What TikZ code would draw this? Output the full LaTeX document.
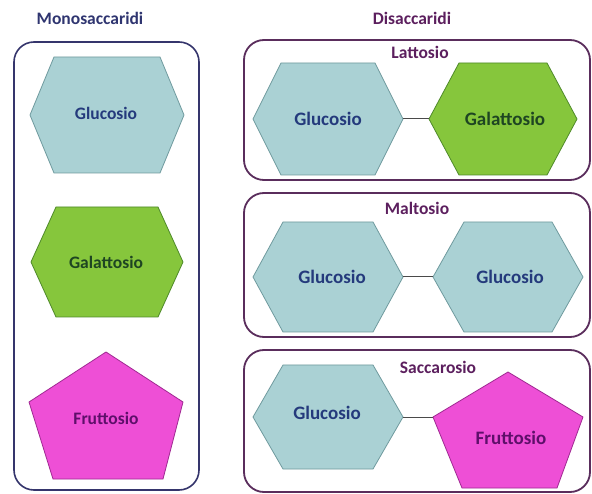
\documentclass[tikz,border=0pt]{standalone}
\usepackage{fontspec}
\setmainfont{Carlito}
\definecolor{glufill}{HTML}{AAD1D4}
\definecolor{gludraw}{HTML}{6F9A9E}
\definecolor{galfill}{HTML}{86C63C}
\definecolor{galdraw}{HTML}{4F8A2A}
\definecolor{frufill}{HTML}{EE4FD6}
\definecolor{frudraw}{HTML}{A02A92}
\definecolor{glutext}{HTML}{243A7C}
\definecolor{galtext}{HTML}{1E4522}
\definecolor{frutext}{HTML}{5E0F6A}
\definecolor{monoc}{HTML}{2F3570}
\definecolor{dic}{HTML}{5C1F5E}
\definecolor{lboxc}{HTML}{35356C}
\definecolor{rboxc}{HTML}{5A2D5C}
\definecolor{linkc}{HTML}{4A4A4A}
\newcommand\hexa[7]{% name, cx, cy, half width, half top width, half height, style
  \coordinate (#1-l) at (#2-#4,#3);
  \coordinate (#1-r) at (#2+#4,#3);
  \draw[#7] (#1-l) -- (#2-#5,#3-#6) -- (#2+#5,#3-#6) -- (#1-r) -- (#2+#5,#3+#6) -- (#2-#5,#3+#6) -- cycle;
}
\begin{document}
\begin{tikzpicture}[x=1pt,y=-1pt]
\tikzset{
  lbox/.style={draw=lboxc, line width=1.6pt, rounded corners=20pt},
  rbox/.style={draw=rboxc, line width=1.8pt, rounded corners=20pt},
  lbl/.style={font=\bfseries\fontsize{17.5}{20}\selectfont, inner sep=0pt},
  biglbl/.style={font=\bfseries\fontsize{19}{22}\selectfont, inner sep=0pt},
  glu/.style={fill=glufill, draw=gludraw, line width=0.8pt},
  gal/.style={fill=galfill, draw=galdraw, line width=0.8pt},
  fru/.style={fill=frufill, draw=frudraw, line width=0.8pt},
  link/.style={draw=linkc, line width=1pt}
}
\useasboundingbox (0,0) rectangle (592,494);
\fill[white] (0,0) rectangle (592,494);

% titles
\node[lbl, text=monoc] (tmono) at (90,18) {Monosaccaridi};
\node[lbl, text=dic] (tdi) at (412,18) {Disaccaridi};

% boxes
\draw[lbox] (14,42) rectangle (199,490);
\draw[rbox] (244,40) rectangle (590,180);
\draw[rbox] (244,193) rectangle (590,337);
\draw[rbox] (244,350) rectangle (590,492);

% left column
\hexa{lglu}{107}{115}{77}{53}{58}{glu}
\node[lbl, text=glutext] (lglut) at (106,113) {Glucosio};
\hexa{lgal}{107}{262}{76}{51}{55}{gal}
\node[lbl, text=galtext] (lgalt) at (106,262) {Galattosio};
\coordinate (lfa) at (106,352);
\coordinate (lfl) at (29,402);
\coordinate (lfr) at (183,402);
\coordinate (lfbl) at (53,479);
\coordinate (lfbr) at (163,479);
\draw[fru] (lfa) -- (lfr) -- (lfbr) -- (lfbl) -- (lfl) -- cycle;
\node[lbl, text=frutext] (lfrut) at (106,418) {Fruttosio};

% Lattosio
\node[lbl, text=dic] (tlat) at (420,52) {Lattosio};
\hexa{aglu}{328}{119}{75}{47}{56}{glu}
\hexa{agal}{503}{119}{74}{44}{56}{gal}
\draw[link] (aglu-r) -- (agal-l);
\node[biglbl, text=glutext] (aglut) at (328,119) {Glucosio};
\node[biglbl, text=galtext] (agalt) at (505,119) {Galattosio};

% Maltosio
\node[lbl, text=dic] (tmal) at (417,208) {Maltosio};
\hexa{mglu}{328}{277}{75}{45}{55}{glu}
\hexa{mglu2}{508}{277}{75}{44}{55}{glu}
\draw[link] (mglu-r) -- (mglu2-l);
\node[biglbl, text=glutext] (mglut) at (332,277) {Glucosio};
\node[biglbl, text=glutext] (mglu2t) at (510,277) {Glucosio};

% Saccarosio
\node[lbl, text=dic] (tsac) at (438,367) {Saccarosio};
\hexa{sglu}{328}{417}{75}{45}{52}{glu}
\coordinate (sfa) at (508,372);
\coordinate (sfl) at (433,417);
\coordinate (sfr) at (583,417);
\coordinate (sfbl) at (462,488);
\coordinate (sfbr) at (557,488);
\draw[fru] (sfa) -- (sfr) -- (sfbr) -- (sfbl) -- (sfl) -- cycle;
\draw[link] (sglu-r) -- (sfl);
\node[biglbl, text=glutext] (sglut) at (327,413) {Glucosio};
\node[biglbl, text=frutext] (sfrut) at (511,438) {Fruttosio};
\end{tikzpicture}
\end{document}
